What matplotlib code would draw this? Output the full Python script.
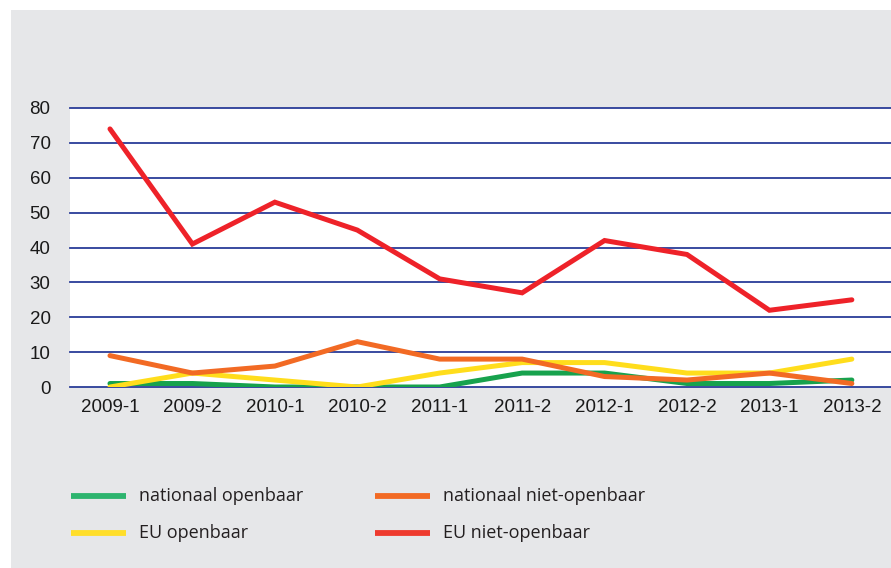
import matplotlib
matplotlib.use("Agg")
import matplotlib.pyplot as plt
from matplotlib.patches import Rectangle
from matplotlib.lines import Line2D

categories = ["2009-1", "2009-2", "2010-1", "2010-2", "2011-1",
              "2011-2", "2012-1", "2012-2", "2013-1", "2013-2"]
nationaal_openbaar = [1, 1, 0, 0, 0, 4, 4, 1, 1, 2]
eu_openbaar = [0, 4, 2, 0, 4, 7, 7, 4, 4, 8]
nationaal_niet_openbaar = [9, 4, 6, 13, 8, 8, 3, 2, 4, 1]
eu_niet_openbaar = [74, 41, 53, 45, 31, 27, 42, 38, 22, 25]
y_ticks = [0, 10, 20, 30, 40, 50, 60, 70, 80]

series = [
    ("nationaal openbaar", nationaal_openbaar, "#17a24d", "#2db46e"),
    ("EU openbaar", eu_openbaar, "#ffdd1c", "#ffde2a"),
    ("nationaal niet-openbaar", nationaal_niet_openbaar, "#f26a24", "#f26a24"),
    ("EU niet-openbaar", eu_niet_openbaar, "#ee2229", "#ee3a2e"),
]

W, H = 891, 568
fig = plt.figure(figsize=(W / 100, H / 100), dpi=100, facecolor="white")
fig.patches.append(Rectangle((11 / W, 0), 1 - 11 / W, 1 - 10 / H,
                             transform=fig.transFigure, facecolor="#e6e7e9",
                             edgecolor="none", zorder=-5))

ax = fig.add_axes([70 / W, 1 - 387 / H, 1 - 70 / W, (387 - 108) / H])
ax.set_zorder(2)
ax.set_facecolor("white")
x = list(range(len(categories)))
for label, vals, col, _ in series:
    ax.plot(x, vals, color=col, lw=3.6, solid_capstyle="round",
            solid_joinstyle="miter", zorder=3)

ax.set_ylim(0, 80)
ax.set_xlim(-0.485, len(categories) - 1 + 0.475)
ax.set_yticks(y_ticks)
ax.set_xticks(x)
ax.set_xticklabels(categories)
for yv in y_ticks:
    ax.axhline(yv, color="#2a3d98", lw=1.3, zorder=2, clip_on=False)
for s in ax.spines.values():
    s.set_visible(False)
ax.tick_params(axis="both", length=0, labelsize=13.5, colors="#1a1a1a")
ax.tick_params(axis="y", pad=14)
ax.tick_params(axis="x", pad=9)
for t in ax.get_xticklabels() + ax.get_yticklabels():
    t.set_fontfamily("Liberation Sans")

# legend
pos = [(71, 496), (375, 496), (71, 533), (375, 533)]
order = [0, 2, 1, 3]
for (px, py), idx in zip(pos, order):
    label, _, _, lcol = series[idx]
    fig.add_artist(Line2D([px / W, (px + 55) / W], [1 - py / H, 1 - py / H],
                          transform=fig.transFigure, color=lcol, lw=4.2,
                          solid_capstyle="butt"))
    fig.text((px + 68) / W, 1 - py / H, label, fontsize=13,
             family="Open Sans", color="#231f20", va="center", ha="left")

fig.savefig("out.png", dpi=100, facecolor="white")
